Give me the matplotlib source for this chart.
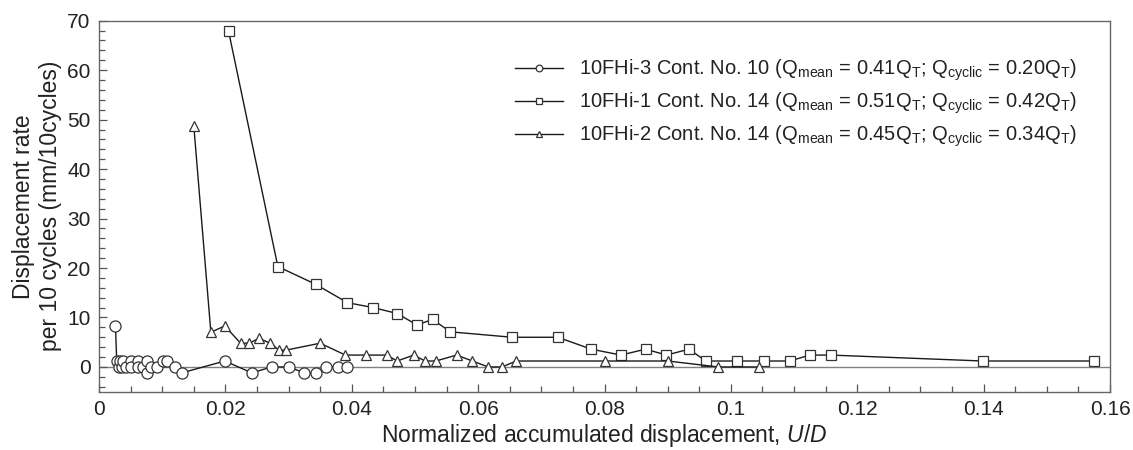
import matplotlib
matplotlib.use("Agg")
import matplotlib.pyplot as plt
from matplotlib.ticker import MultipleLocator, FuncFormatter

plt.rcParams['font.family'] = ['Liberation Sans', 'DejaVu Sans']
plt.rcParams['mathtext.fontset'] = 'custom'
plt.rcParams['mathtext.rm'] = 'Liberation Sans'
plt.rcParams['mathtext.it'] = 'Liberation Sans:italic'

# 10FHi-3 Cont. No. 10 (circles)
x_fhi3 = [0.0026, 0.0028, 0.0032, 0.0033, 0.0036, 0.0038, 0.0042, 0.0050, 0.0050,
          0.0062, 0.0062, 0.0070, 0.0076, 0.0076, 0.0083, 0.0091, 0.0101, 0.0108,
          0.0120, 0.0131, 0.0199, 0.0242, 0.0273, 0.0300, 0.0325, 0.0343, 0.0360,
          0.0378, 0.0393]
y_fhi3 = [8.3, 1.2, 0.0, 1.2, 0.0, 1.2, 0.0, 1.2, 0.0,
          1.2, 0.0, 0.0, 1.2, -1.2, 0.0, 0.0, 1.2, 1.2,
          0.0, -1.2, 1.2, -1.2, 0.0, 0.0, -1.2, -1.2, 0.0,
          0.0, 0.0]

# 10FHi-1 Cont. No. 14 (squares)
x_fhi1 = [0.0205, 0.0283, 0.0343, 0.0393, 0.0434, 0.0472, 0.0503, 0.0528, 0.0556,
          0.0654, 0.0726, 0.0779, 0.0826, 0.0865, 0.0898, 0.0934, 0.0960, 0.1010,
          0.1053, 0.1093, 0.1125, 0.1158, 0.1399, 0.1575]
y_fhi1 = [67.9, 20.3, 16.7, 13.0, 12.0, 10.8, 8.5, 9.6, 7.1,
          6.0, 6.0, 3.6, 2.4, 3.6, 2.4, 3.6, 1.2, 1.2,
          1.2, 1.2, 2.4, 2.4, 1.2, 1.2]

# 10FHi-2 Cont. No. 14 (triangles)
x_fhi2 = [0.0150, 0.0177, 0.0199, 0.0224, 0.0238, 0.0253, 0.0271, 0.0285, 0.0296,
          0.0350, 0.0390, 0.0422, 0.0455, 0.0472, 0.0498, 0.0516, 0.0533, 0.0566,
          0.0591, 0.0616, 0.0638, 0.0660, 0.0800, 0.0900, 0.0980, 0.1045]
y_fhi2 = [48.7, 7.0, 8.3, 4.8, 4.8, 5.8, 4.8, 3.4, 3.4,
          4.8, 2.4, 2.4, 2.4, 1.2, 2.4, 1.2, 1.2, 2.4,
          1.2, 0.0, 0.0, 1.2, 1.2, 1.2, 0.0, 0.0]

labels = [
    r'10FHi-3 Cont. No. 10 (Q$_{\mathrm{mean}}$ = 0.41Q$_{\mathrm{T}}$; Q$_{\mathrm{cyclic}}$ = 0.20Q$_{\mathrm{T}}$)',
    r'10FHi-1 Cont. No. 14 (Q$_{\mathrm{mean}}$ = 0.51Q$_{\mathrm{T}}$; Q$_{\mathrm{cyclic}}$ = 0.42Q$_{\mathrm{T}}$)',
    r'10FHi-2 Cont. No. 14 (Q$_{\mathrm{mean}}$ = 0.45Q$_{\mathrm{T}}$; Q$_{\mathrm{cyclic}}$ = 0.34Q$_{\mathrm{T}}$)',
]

fig = plt.figure(figsize=(11.33, 4.5), dpi=100)
ax = fig.add_axes([0.0874, 0.1296, 0.8923, 0.8244])

ax.axhline(0, color='#808080', lw=1.0, zorder=1)

ax.plot(x_fhi3, y_fhi3, '-o', color='#1a1a1a', lw=1.0, ms=8, mfc='white', mec='#333333', mew=0.9, label=labels[0], zorder=3)
ax.plot(x_fhi1, y_fhi1, '-s', color='#1a1a1a', lw=1.0, ms=7, mfc='white', mec='#333333', mew=0.9, label=labels[1], zorder=3)
ax.plot(x_fhi2, y_fhi2, '-^', color='#1a1a1a', lw=1.0, ms=7.5, mfc='white', mec='#333333', mew=0.9, label=labels[2], zorder=3)

ax.set_xlim(0, 0.16)
ax.set_ylim(-5, 70)
ax.xaxis.set_major_locator(MultipleLocator(0.02))
ax.xaxis.set_minor_locator(MultipleLocator(0.005))
ax.yaxis.set_major_locator(MultipleLocator(10))
ax.yaxis.set_minor_locator(MultipleLocator(2))
ax.xaxis.set_major_formatter(FuncFormatter(lambda v, p: '%g' % round(v, 3)))
ax.tick_params(which='both', direction='in', top=False, right=False, colors='#555555', labelcolor='#222222', labelsize=15)
ax.tick_params(which='major', length=6, width=0.9, pad=6)
ax.tick_params(which='minor', length=4, width=0.9)
for s in ax.spines.values():
    s.set_color('#666666')
    s.set_linewidth(1.0)

ax.set_xlabel(r'Normalized accumulated displacement, $\mathit{U/D}$', fontsize=16.5, color='#222222', labelpad=2)
ax.set_ylabel('Displacement rate\nper 10 cycles (mm/10cycles)', fontsize=16.5, color='#222222', labelpad=4)

leg = ax.legend(loc='upper right', bbox_to_anchor=(0.985, 0.95), frameon=False, fontsize=14.5,
                markerscale=0.6, handlelength=2.4, labelspacing=0.38, handletextpad=0.8)
for t in leg.get_texts():
    t.set_color('#222222')

fig.savefig('out.png', dpi=100)
